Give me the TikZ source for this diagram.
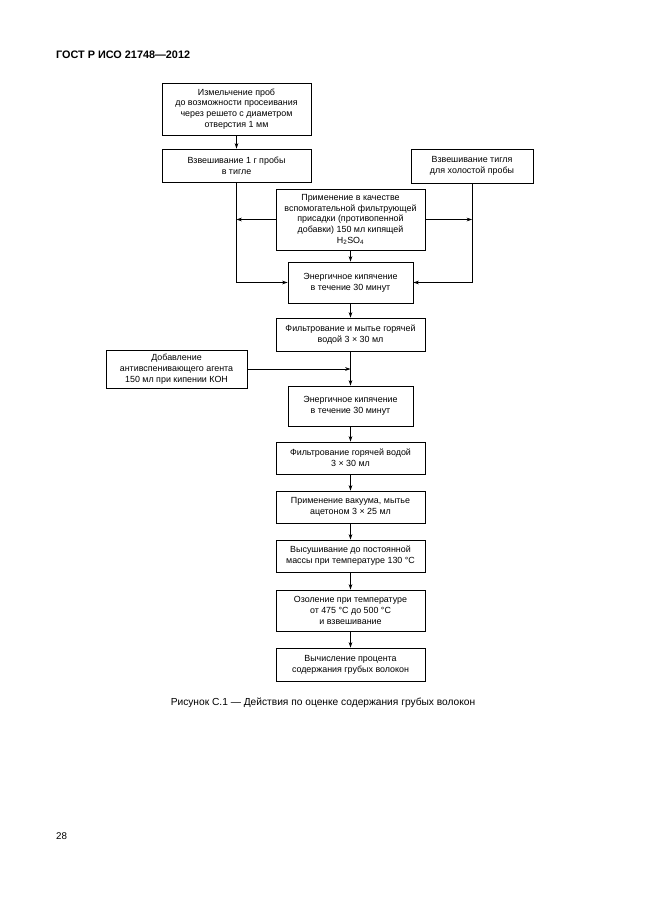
\documentclass[tikz,border=0pt]{standalone}
\usepackage{fontspec}
\setmainfont{Liberation Sans}
\usetikzlibrary{arrows.meta}
\def\u{0.9216pt}
\tikzset{
  box/.style={draw, line width=0.8pt, align=center, inner sep=1pt,
    font=\fontsize{8.2}{10}\selectfont},
  arr/.style={line width=0.6pt, -{Stealth[length=5pt,width=3.4pt]}},
}
\begin{document}
\begin{tikzpicture}[x=0.9216pt, y=-0.9216pt]
\useasboundingbox (0,0) rectangle (646,913);
\node[anchor=west, inner sep=0pt, font=\fontsize{10}{12}\selectfont\bfseries] (hdr) at (56,55) {ГОСТ Р ИСО 21748—2012};
\node[box, minimum width=149*\u, minimum height=52*\u] (b1) at (236.5,109)
  {Измельчение проб\\до возможности просеивания\\через решето с диаметром\\отверстия 1 мм};
\node[box, minimum width=149*\u, minimum height=33*\u] (b2) at (236.5,165.5)
  {Взвешивание 1 г пробы\\в тигле};
\node[box, minimum width=122*\u, minimum height=34*\u] (b3) at (472,166)
  {Взвешивание тигля\\для холостой пробы};
\node[box, minimum width=149*\u, minimum height=61*\u] (b4) at (350.5,219.5)
  {Применение в качестве\\вспомогательной фильтрующей\\присадки (противопенной\\добавки) 150 мл кипящей\\H\textsubscript{2}SO\textsubscript{4}};
\node[box, minimum width=125*\u, minimum height=41*\u] (b5) at (350.5,282.5)
  {Энергичное кипячение\\в течение 30 минут};
\node[box, minimum width=149*\u, minimum height=33*\u] (b6) at (350.5,334.5)
  {Фильтрование и мытье горячей\\водой 3 × 30 мл};
\node[box, minimum width=141*\u, minimum height=38*\u] (b7) at (176.5,369)
  {Добавление\\антивспенивающего агента\\150 мл при кипении КОН};
\node[box, minimum width=125*\u, minimum height=40*\u] (b8) at (350.5,406)
  {Энергичное кипячение\\в течение 30 минут};
\node[box, minimum width=149*\u, minimum height=32*\u] (b9) at (350.5,458)
  {Фильтрование горячей водой\\3 × 30 мл};
\node[box, minimum width=149*\u, minimum height=32*\u] (b10) at (350.5,507)
  {Применение вакуума, мытье\\ацетоном 3 × 25 мл};
\node[box, minimum width=149*\u, minimum height=32*\u] (b11) at (350.5,556)
  {Высушивание до постоянной\\массы при температуре 130 °C};
\node[box, minimum width=149*\u, minimum height=41*\u] (b12) at (350.5,610.5)
  {Озоление при температуре\\от 475 °C до 500 °C\\и взвешивание};
\node[box, minimum width=149*\u, minimum height=33*\u] (b13) at (350.5,664.5)
  {Вычисление процента\\содержания грубых волокон};
\node[font=\fontsize{9.4}{11}\selectfont] (cap) at (323,703)
  {Рисунок С.1 — Действия по оценке содержания грубых волокон};
\node[anchor=west, inner sep=0pt, font=\fontsize{9}{11}\selectfont] (pg) at (56,836) {28};
\draw[arr] (b1.south) -- (b2.north);
\draw[arr] (b2.south) |- (b5.west);
\draw[arr] (b3.south) |- (b5.east);
\draw[arr] (b4.west) -- (b4.west -| b2.south);
\draw[arr] (b4.east) -- (b4.east -| b3.south);
\draw[arr] (b4.south) -- (b5.north);
\draw[arr] (b5.south) -- (b6.north);
\draw[arr] (b6.south) -- (b8.north);
\draw[arr] (b7.east) -- (b7.east -| b6.south);
\draw[arr] (b8.south) -- (b9.north);
\draw[arr] (b9.south) -- (b10.north);
\draw[arr] (b10.south) -- (b11.north);
\draw[arr] (b11.south) -- (b12.north);
\draw[arr] (b12.south) -- (b13.north);
\end{tikzpicture}
\end{document}
